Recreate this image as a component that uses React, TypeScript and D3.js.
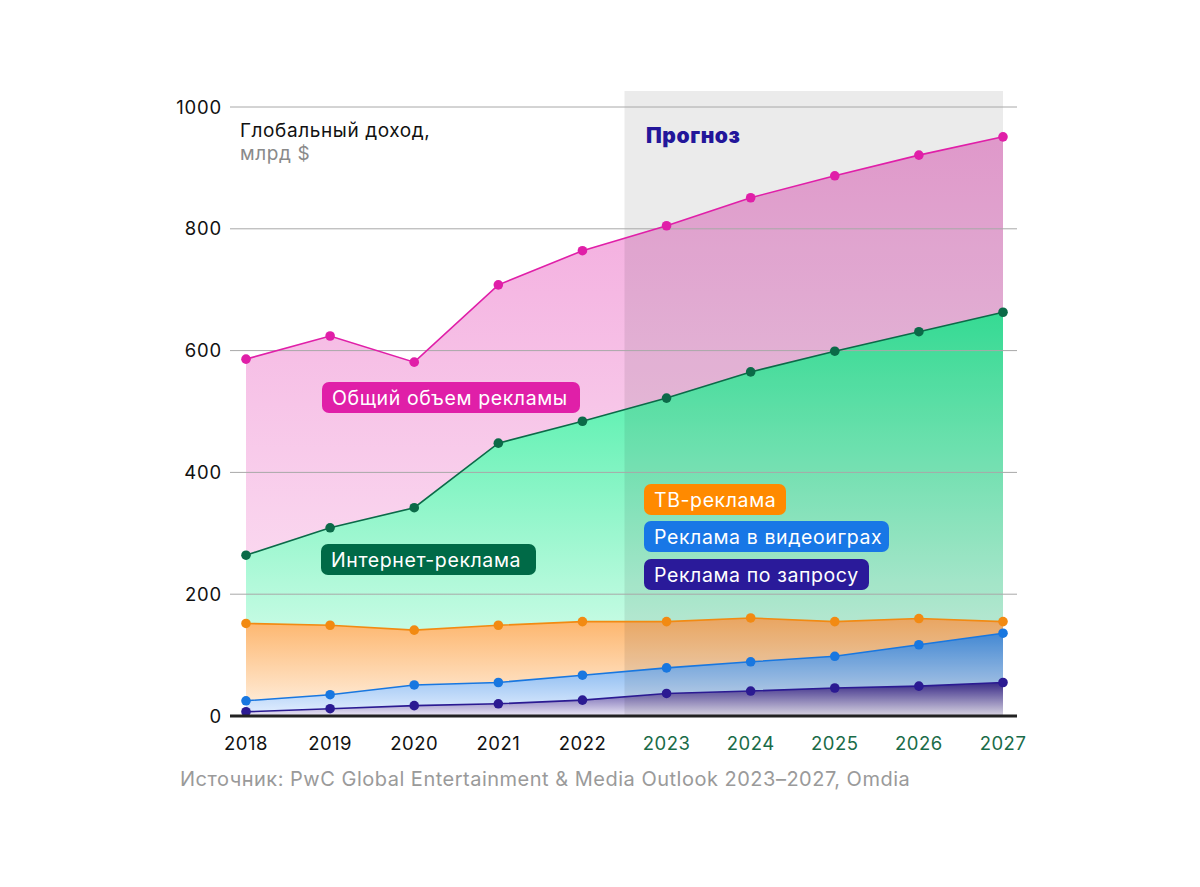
import React from 'react';
import * as d3 from 'd3';

const years = [2018, 2019, 2020, 2021, 2022, 2023, 2024, 2025, 2026, 2027];
const totalAds = [586, 624, 581, 708, 764, 805, 851, 887, 921, 951];
const internetAds = [264, 309, 342, 448, 484, 522, 565, 599, 631, 663];
const tvAds = [152, 149, 141, 149, 155, 155, 161, 155, 160, 155];
const gameAds = [25, 35, 51, 55, 67, 79, 89, 98, 117, 136];
const searchAds = [7, 12, 17, 20, 26, 37, 41, 46, 49, 55];
const yTicks = [0, 200, 400, 600, 800, 1000];
const forecastFrom = 2022.5;

interface Series {
  id: string;
  values: number[];
  line: string;
  top: string;
  bottom: string;
}

const series: Series[] = [
  { id: 'total', values: totalAds, line: '#e01fa8', top: '#f2a6dc', bottom: '#fde9f6' },
  { id: 'internet', values: internetAds, line: '#0b6a48', top: '#3aeda0', bottom: '#ecfff6' },
  { id: 'tv', values: tvAds, line: '#f28a12', top: '#fdb46a', bottom: '#fff3e6' },
  { id: 'games', values: gameAds, line: '#1877e0', top: '#4a95e6', bottom: '#e6f0ff' },
  { id: 'search', values: searchAds, line: '#2b1a92', top: '#3d2d92', bottom: '#ece8f6' },
];

const labels = [
  { text: 'Общий объем рекламы', x: 322, y: 382, w: 258, fill: '#e01fa8' },
  { text: 'Интернет-реклама', x: 321, y: 544, w: 215, fill: '#006a47' },
  { text: 'ТВ-реклама', x: 644, y: 484, w: 142, fill: '#ff8a00' },
  { text: 'Реклама в видеоиграх', x: 644, y: 521, w: 245, fill: '#1877e6' },
  { text: 'Реклама по запросу', x: 644, y: 559, w: 225, fill: '#2a1a9a' },
];

const W = 1200;
const H = 887;
const FONT = 'Inter, "Noto Sans", sans-serif';

const App: React.FC = () => {
  const x = d3.scaleLinear().domain([2018, 2027]).range([246, 1003]);
  const y = d3.scaleLinear().domain([0, 1000]).range([716, 107]);

  const area = d3
    .area<number>()
    .x((_, i) => x(years[i]))
    .y0(y(0))
    .y1((d) => y(d));
  const line = d3
    .line<number>()
    .x((_, i) => x(years[i]))
    .y((d) => y(d));

  return (
    <svg width={W} height={H} style={{ position: 'absolute', left: 0, top: 0, fontFamily: FONT }}>
      <defs>
        {series.map((s) => (
          <linearGradient key={s.id} id={'g-' + s.id} x1="0" y1="0" x2="0" y2="1">
            <stop offset="0%" stopColor={s.top} />
            <stop offset="100%" stopColor={s.bottom} />
          </linearGradient>
        ))}
      </defs>
      <rect width={W} height={H} fill="#fff" />

      {series.map((s) => (
        <path key={s.id} d={area(s.values) || ''} fill={`url(#g-${s.id})`} />
      ))}

      <rect
        x={x(forecastFrom)}
        y={91}
        width={x(2027) - x(forecastFrom)}
        height={y(0) - 91}
        fill="#000"
        opacity={0.08}
      />

      {yTicks.slice(1).map((t) => (
        <line key={t} x1={230} x2={1017} y1={y(t)} y2={y(t)} stroke="#a8a8a8" strokeWidth={1} />
      ))}

      {series.map((s) => (
        <g key={s.id}>
          <path d={line(s.values) || ''} fill="none" stroke={s.line} strokeWidth={1.6} />
          {s.values.map((v, i) => (
            <circle key={i} cx={x(years[i])} cy={y(v)} r={4.8} fill={s.line} />
          ))}
        </g>
      ))}

      <line x1={230} x2={1017} y1={y(0)} y2={y(0)} stroke="#222" strokeWidth={3} />

      {yTicks.map((t) => (
        <text key={t} x={222} y={y(t) + 6.5} textAnchor="end" fontSize={18.5} letterSpacing={0.8} fill="#111">
          {t}
        </text>
      ))}
      {years.map((yr) => (
        <text
          key={yr}
          x={x(yr)}
          y={750}
          textAnchor="middle"
          fontSize={18.5}
          letterSpacing={0.5}
          fill={yr > forecastFrom ? '#1a6b48' : '#111'}
        >
          {yr}
        </text>
      ))}

      <text x={240} y={137} fontSize={19} letterSpacing={0.6} fill="#111">Глобальный доход,</text>
      <text x={240} y={160} fontSize={19} letterSpacing={0.6} fill="#8a8a8a">млрд $</text>
      <text x={646} y={143} fontSize={21} letterSpacing={0.6} fontWeight={900} fill="#23169a">Прогноз</text>

      {labels.map((l) => (
        <g key={l.text}>
          <rect x={l.x} y={l.y} width={l.w} height={31} rx={7} fill={l.fill} />
          <text x={l.x + 10} y={l.y + 22.5} fontSize={19.5} letterSpacing={0.6} fill="#fff">
            {l.text}
          </text>
        </g>
      ))}

      <text x={180} y={786} fontSize={20} letterSpacing={0.5} fill="#9a9a9a">
        Источник: PwC Global Entertainment &amp; Media Outlook 2023–2027, Omdia
      </text>
    </svg>
  );
};

export default App;
